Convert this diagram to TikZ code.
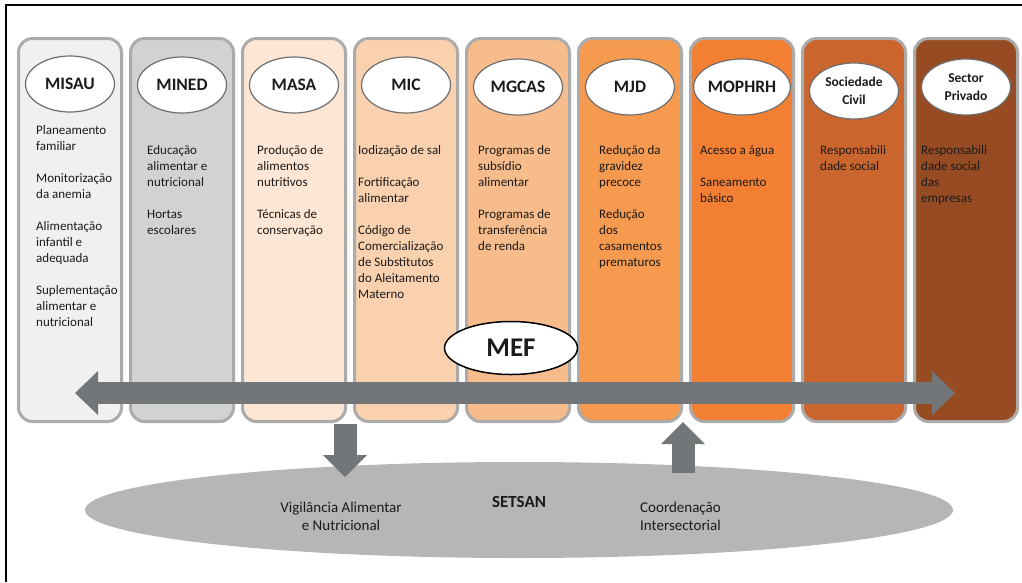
\documentclass[tikz,border=0pt]{standalone}
\usepackage{fontspec}
\setmainfont{Carlito}
\usepackage{xcolor}
\usetikzlibrary{arrows.meta,positioning,shapes.geometric}
\definecolor{Edge}{HTML}{ABABAB}
\definecolor{EllEdge}{HTML}{6E6E6E}
\definecolor{Ink}{HTML}{1C1A1A}
\definecolor{Flow}{HTML}{737678}
\definecolor{Base}{HTML}{B5B6B6}
\definecolor{Misau}{HTML}{EFF0EF}
\definecolor{Mined}{HTML}{D1D3D3}
\definecolor{Masa}{HTML}{FDE6D3}
\definecolor{Mic}{HTML}{FAD1AF}
\definecolor{Mgcas}{HTML}{F7BC8C}
\definecolor{Mjd}{HTML}{F59A4F}
\definecolor{Mophrh}{HTML}{F37F32}
\definecolor{Civil}{HTML}{CA662D}
\definecolor{Private}{HTML}{974B22}
\newcommand{\fs}[2]{\fontsize{#1}{#2}\selectfont}

\begin{document}
\begin{tikzpicture}[x=1pt,y=1pt,node distance=6pt, every node/.style={text=Ink},
  col/.style={draw=Edge,line width=3pt,rounded corners=14pt,minimum width=103pt,minimum height=383pt,inner sep=0},
  lbl/.style={ellipse,draw=EllEdge,fill=white,line width=1.2pt,minimum width=89pt,minimum height=56pt,inner sep=0,align=center,font=\bfseries\fs{17.5}{20}},
  lblsm/.style={lbl,font=\bfseries\fs{13.5}{18}},
  body/.style={anchor=north west,align=left,inner sep=0,font=\fs{13}{16}},
  low/.style={align=center,inner sep=0,font=\fs{15}{18}},
  bigflow/.style={draw=Flow,line width=22pt,{Triangle[length=23pt,width=44pt,line width=0pt]}-{Triangle[length=23pt,width=44pt,line width=0pt]}},
  flow/.style={draw=Flow,line width=23pt,-{Triangle[length=22pt,width=44pt,line width=0pt]}}]
\useasboundingbox (0,0) rectangle (1022,-582);
\draw[line width=2pt,black] (6,-582) -- (6,-5) -- (1022,-5);

\node[col,fill=Misau] (c0) at (70,-230) {};
\node[col,fill=Mined,right=of c0] (c1) {};
\node[col,fill=Masa,right=of c1] (c2) {};
\node[col,fill=Mic,right=of c2] (c3) {};
\node[col,fill=Mgcas,right=of c3] (c4) {};
\node[col,fill=Mjd,right=of c4] (c5) {};
\node[col,fill=Mophrh,right=of c5] (c6) {};
\node[col,fill=Civil,right=of c6] (c7) {};
\node[col,fill=Private,right=of c7] (c8) {};

\node[lbl] (l0) at ([yshift=-47pt]c0.north) {MISAU};
\node[lbl] (l1) at ([yshift=-48pt]c1.north) {MINED};
\node[lbl] (l2) at ([yshift=-48pt]c2.north) {MASA};
\node[lbl] (l3) at ([yshift=-48pt]c3.north) {MIC};
\node[lbl] (l4) at ([yshift=-50pt]c4.north) {MGCAS};
\node[lbl] (l5) at ([yshift=-50pt]c5.north) {MJD};
\node[lbl] (l6) at ([yshift=-50pt]c6.north) {MOPHRH};
\node[lblsm] (l7) at ([yshift=-54pt]c7.north) {Sociedade\\Civil};
\node[lblsm] (l8) at ([yshift=-50pt]c8.north) {Sector\\Privado};

\node[body] (t0) at (36,-125) {Planeamento\\familiar\\[16pt]Monitorização\\da anemia\\[16pt]Alimentação\\infantil e\\adequada\\[16pt]Suplementação\\alimentar e\\nutricional};
\node[body] (t1) at (147,-145) {Educação\\alimentar e\\nutricional\\[16pt]Hortas\\escolares};
\node[body] (t2) at (257,-145) {Produção de\\alimentos\\nutritivos\\[16pt]Técnicas de\\conservação};
\node[body] (t3) at (358,-145) {Iodização de sal\\[16pt]Fortificação\\alimentar\\[16pt]Código de\\Comercialização\\de Substitutos\\do Aleitamento\\Materno};
\node[body] (t4) at (478,-145) {Programas de\\subsídio\\alimentar\\[16pt]Programas de\\transferência\\de renda};
\node[body] (t5) at (599,-145) {Redução da\\gravidez\\precoce\\[16pt]Redução\\dos\\casamentos\\prematuros};
\node[body] (t6) at (700,-145) {Acesso a água\\[16pt]Saneamento\\básico};
\node[body] (t7) at (820,-145) {Responsabili\\dade social};
\node[body] (t8) at (921,-145) {Responsabili\\dade social\\das\\empresas};

\node[ellipse,fill=Base,minimum width=868pt,minimum height=96pt,inner sep=0] (setsan) at (519,-510) {};
\node[font=\bfseries\fs{17}{20}] (s) at (519,-502) {SETSAN};
\node[low] (v) at (341,-516) {Vigilância Alimentar\\e Nutricional};
\node[low,anchor=west] (k) at (640,-516) {Coordenação\\Intersectorial};

\coordinate (wl) at (75,-393);
\coordinate (wr) at (955,-393);
\draw[bigflow] (wl) -- (wr);
\node[ellipse,draw=black,fill=white,line width=1.5pt,minimum width=133pt,minimum height=53pt,inner sep=0,font=\bfseries\fs{27}{30}] (mef) at (511,-348) {MEF};

\coordinate (d0) at (345,-424);
\coordinate (d1) at (345,-477);
\draw[flow] (d0) -- (d1);
\coordinate (u0) at (683,-473);
\coordinate (u1) at (683,-422);
\draw[flow] (u0) -- (u1);
\end{tikzpicture}
\end{document}
